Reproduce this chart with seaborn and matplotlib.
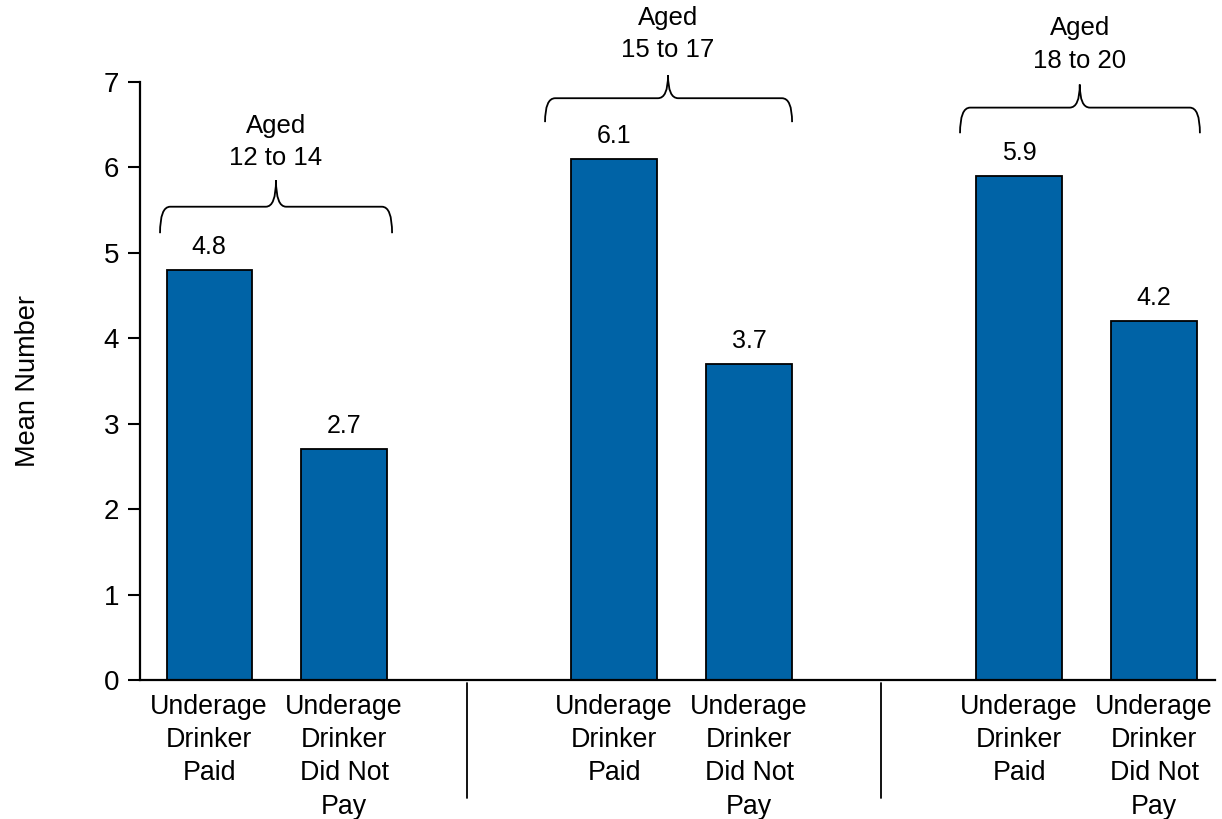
import matplotlib
matplotlib.use("Agg")
import matplotlib.pyplot as plt
from matplotlib.path import Path
from matplotlib.patches import PathPatch
import numpy as np
import pandas as pd
import seaborn as sns

# Data
age_groups = ["Aged\n12 to 14", "Aged\n15 to 17", "Aged\n18 to 20"]
payment = ["Underage\nDrinker\nPaid", "Underage\nDrinker\nDid Not\nPay"]
mean_paid = [4.8, 6.1, 5.9]
mean_not_paid = [2.7, 3.7, 4.2]

BAR_COLOR = "#0063A6"

sns.set_style("white")
plt.rcParams["font.family"] = ["Liberation Sans", "DejaVu Sans"]
plt.rcParams.update({"text.color": "black", "axes.labelcolor": "black",
                     "xtick.color": "black", "ytick.color": "black"})

rows = []
for g, (p, n) in enumerate(zip(mean_paid, mean_not_paid)):
    rows.append({"pos": g * 3 + 0, "value": p, "label": payment[0], "group": age_groups[g]})
    rows.append({"pos": g * 3 + 1, "value": n, "label": payment[1], "group": age_groups[g]})
df = pd.DataFrame(rows)

fig = plt.figure(figsize=(12.22, 8.19), dpi=100)
ax = fig.add_axes([0.1146, 0.1697, 0.8797, 0.7302])

sns.barplot(data=df, x="pos", y="value", native_scale=True, width=0.63,
            color=BAR_COLOR, saturation=1, edgecolor="black", linewidth=1.3,
            errorbar=None, ax=ax)

for c in ax.containers:
    ax.bar_label(c, labels=[f"{v:.1f}" for v in c.datavalues], padding=8, fontsize=18)

ax.set_xlim(-0.511, 7.452)
ax.set_ylim(0, 7)
ax.set_yticks(range(0, 8))
ax.set_xticks(df["pos"])
ax.set_xticklabels(df["label"], linespacing=1.36)
ax.set_xlabel("")
ax.set_ylabel("Mean Number", fontsize=19.5, labelpad=45)

ax.tick_params(axis="y", labelsize=20, length=9, width=1.5, direction="out", pad=6, left=True)
ax.tick_params(axis="x", labelsize=19.3, length=0, pad=10)

for s in ["top", "right"]:
    ax.spines[s].set_visible(False)
for s in ["left", "bottom"]:
    ax.spines[s].set_linewidth(1.6)
    ax.spines[s].set_color("black")

# Group separators below the axis
for xs in [1.91, 4.98]:
    ax.plot([xs, xs], [-0.035, -1.38], color="black", lw=1.3, clip_on=False)

# Braces with age labels: (left, right, tip x, horizontal y, end y, tip y, text y)
braces = [
    (-0.363, 1.356, 0.496, 5.54, 5.23, 5.85, 6.30),
    (2.489, 4.319, 3.40, 6.81, 6.53, 7.08, 7.56),
    (5.563, 7.340, 6.45, 6.70, 6.40, 6.97, 7.44),
]
rx = 0.075
for (x0, x1, xc, yh, ye, yt, ytext), label in zip(braces, age_groups):
    verts = [
        (x0, ye), (x0, yh), (x0 + rx, yh),
        (xc - rx, yh),
        (xc, yh), (xc, yt),
        (xc, yh), (xc + rx, yh),
        (x1 - rx, yh),
        (x1, yh), (x1, ye),
    ]
    codes = [Path.MOVETO, Path.CURVE3, Path.CURVE3,
             Path.LINETO,
             Path.CURVE3, Path.CURVE3,
             Path.CURVE3, Path.CURVE3,
             Path.LINETO,
             Path.CURVE3, Path.CURVE3]
    ax.add_patch(PathPatch(Path(verts, codes), fill=False, lw=1.3,
                           edgecolor="black", clip_on=False))
    ax.text(xc, ytext, label, ha="center", va="center", fontsize=18.5,
            linespacing=1.45, clip_on=False)

fig.savefig("out.png", dpi=100)
